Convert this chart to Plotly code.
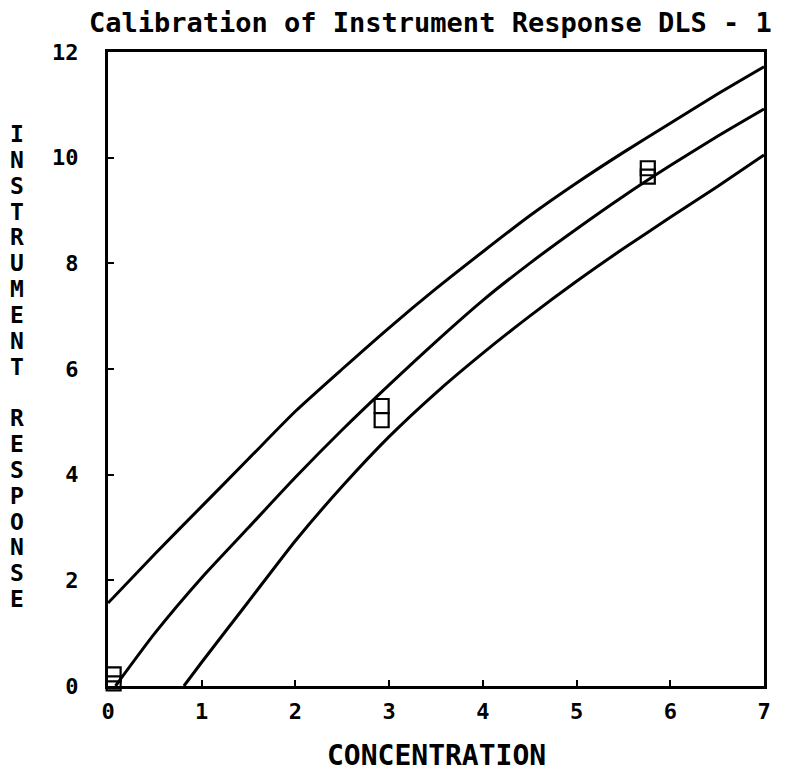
import plotly.graph_objects as go

# Calibration curve and its upper / lower bands (concentration vs. response)
mid_x = [0.08, 0.5, 1.0, 1.5, 2.0, 2.5, 3.0, 3.5, 4.0, 4.5, 5.0, 5.5, 6.0, 6.5, 7.0]
mid_y = [0.0, 1.0, 2.05, 3.0, 3.95, 4.85, 5.7, 6.52, 7.3, 8.0, 8.65, 9.27, 9.85, 10.4, 10.92]

upper_x = [0.0, 0.5, 1.0, 1.5, 2.0, 2.5, 3.0, 3.5, 4.0, 4.5, 5.0, 5.5, 6.0, 6.5, 7.0]
upper_y = [1.57, 2.5, 3.4, 4.3, 5.2, 6.0, 6.78, 7.52, 8.22, 8.9, 9.52, 10.1, 10.65, 11.2, 11.72]

lower_x = [0.81, 1.0, 1.5, 2.0, 2.5, 3.0, 3.5, 4.0, 4.5, 5.0, 5.5, 6.0, 6.5, 7.0]
lower_y = [0.0, 0.45, 1.6, 2.75, 3.78, 4.72, 5.55, 6.3, 7.0, 7.66, 8.28, 8.87, 9.45, 10.05]

# Measured standards (replicates)
std_conc = [0.06, 0.06, 2.92, 2.92, 5.76, 5.76]
std_resp = [0.22, 0.05, 5.3, 5.03, 9.8, 9.64]

x_ticks = [0, 1, 2, 3, 4, 5, 6, 7]
y_ticks = [0, 2, 4, 6, 8, 10, 12]

title_text = "Calibration of Instrument Response DLS - 1"
x_title = "CONCENTRATION"
y_title = "INSTRUMENT RESPONSE"

FONT = "DejaVu Sans Mono"
INK = "black"

fig = go.Figure()
for xs, ys in [(upper_x, upper_y), (mid_x, mid_y), (lower_x, lower_y)]:
    fig.add_trace(go.Scatter(x=xs, y=ys, mode="lines",
                             line=dict(color=INK, width=3, shape="spline", smoothing=0.6),
                             showlegend=False, hoverinfo="skip"))

fig.add_trace(go.Scatter(x=std_conc, y=std_resp, mode="markers",
                         marker=dict(symbol="square-open", size=14,
                                     color=INK, line=dict(width=2.2, color=INK)),
                         showlegend=False, cliponaxis=False))

axis_common = dict(showline=True, linewidth=3, linecolor=INK, mirror=True,
                   ticks="inside", ticklen=6, tickwidth=2, tickcolor=INK,
                   showgrid=False, zeroline=False,
                   tickfont=dict(family=FONT, size=22, color=INK, weight="bold"))

fig.update_xaxes(range=[0, 7], tickvals=x_ticks, ticklabelstandoff=4, **axis_common)
fig.update_yaxes(range=[0, 12], tickvals=y_ticks, ticklabelstandoff=22, **axis_common)

fig.add_annotation(text=title_text, xref="paper", yref="paper",
                   x=-0.032, y=1.047, xanchor="left", yanchor="middle",
                   showarrow=False,
                   font=dict(family=FONT, size=27, color=INK, weight="bold"))
fig.add_annotation(text=x_title, xref="paper", yref="paper",
                   x=0.5015, y=-0.109, xanchor="center", yanchor="middle",
                   showarrow=False,
                   font=dict(family=FONT, size=28, color=INK, weight="bold"))

# Vertical axis title: upright letters stacked top to bottom
plot_top, plot_h = 52, 634
first_px, step_px = 134, (599 - 134) / (len(y_title) - 1)
for i, ch in enumerate(y_title):
    if ch == " ":
        continue
    py = first_px + i * step_px
    fig.add_annotation(text=ch, xref="paper", yref="paper",
                       x=-0.139, y=1 - (py - plot_top) / plot_h,
                       xanchor="center", yanchor="middle", showarrow=False,
                       font=dict(family=FONT, size=23, color=INK, weight="bold"))

fig.update_layout(width=789, height=778,
                  margin=dict(l=108, r=25, t=52, b=92),
                  plot_bgcolor="white", paper_bgcolor="white")

fig.write_html("out.html")
